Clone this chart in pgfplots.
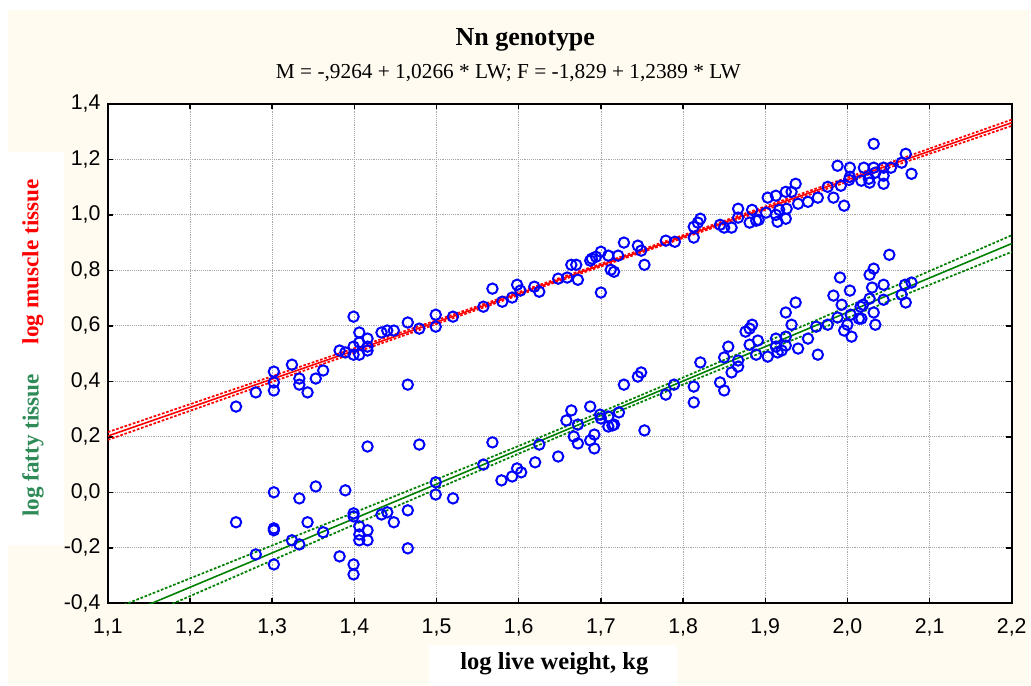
\documentclass[border=0pt]{standalone}
\usepackage{pgfplots}
\pgfplotsset{compat=1.18}
\usepackage{pgfplotstable}
\usepackage{fontspec}
\setmainfont{Liberation Serif}
\newfontfamily\arialfont{Liberation Sans}
\definecolor{cream}{RGB}{255,251,240}
\definecolor{seagreen}{RGB}{46,139,87}
\definecolor{dgreen}{RGB}{0,128,0}

\pgfplotstableread{
x y
1.256 0.309
1.280 0.360
1.302 0.435
1.302 0.396
1.302 0.367
1.324 0.460
1.333 0.410
1.333 0.388
1.343 0.360
1.353 0.410
1.362 0.439
1.382 0.511
1.389 0.504
1.399 0.633
1.399 0.525
1.399 0.496
1.406 0.576
1.406 0.540
1.406 0.496
1.416 0.554
1.416 0.511
1.416 0.525
1.433 0.576
1.440 0.583
1.448 0.583
1.465 0.612
1.465 0.388
1.479 0.590
1.499 0.640
1.499 0.597
1.520 0.633
1.557 0.669
1.568 0.734
1.580 0.687
1.592 0.702
1.598 0.748
1.602 0.727
1.619 0.741
1.625 0.723
1.648 0.770
1.659 0.774
1.664 0.820
1.670 0.820
1.672 0.766
1.687 0.835
1.689 0.842
1.694 0.849
1.700 0.867
1.700 0.720
1.709 0.853
1.712 0.802
1.716 0.795
1.721 0.853
1.728 0.900
1.745 0.889
1.749 0.871
1.753 0.820
1.779 0.907
1.790 0.903
1.813 0.957
1.813 0.918
1.818 0.972
1.821 0.986
1.845 0.964
1.850 0.954
1.859 0.954
1.867 1.022
1.867 0.990
1.881 0.972
1.884 1.018
1.889 0.979
1.892 0.982
1.901 1.008
1.913 1.000
1.915 0.975
1.903 1.062
1.913 1.069
1.917 1.018
1.925 0.986
1.925 1.083
1.926 1.022
1.932 1.083
1.937 1.112
1.940 1.040
1.952 1.047
1.964 1.062
1.976 1.101
1.983 1.062
1.988 1.177
1.992 1.105
1.996 1.033
2.002 1.126
2.003 1.170
2.003 1.137
2.017 1.123
2.020 1.170
2.026 1.130
2.027 1.116
2.032 1.256
2.032 1.170
2.034 1.152
2.044 1.170
2.044 1.141
2.044 1.112
2.053 1.170
2.066 1.188
2.071 1.220
2.078 1.148
}\muscle

\pgfplotstableread{
x y
1.256 -0.108
1.280 -0.224
1.302 0.000
1.302 -0.130
1.302 -0.137
1.302 -0.260
1.324 -0.173
1.333 -0.022
1.333 -0.188
1.343 -0.108
1.353 0.021
1.362 -0.144
1.382 -0.231
1.389 0.007
1.399 -0.076
1.399 -0.087
1.399 -0.260
1.399 -0.296
1.406 -0.123
1.406 -0.152
1.406 -0.173
1.416 0.165
1.416 -0.137
1.416 -0.173
1.433 -0.080
1.440 -0.072
1.448 -0.108
1.465 -0.065
1.465 -0.202
1.479 0.172
1.499 0.036
1.499 -0.008
1.520 -0.022
1.557 0.100
1.568 0.180
1.579 0.043
1.592 0.057
1.598 0.086
1.603 0.072
1.620 0.108
1.625 0.172
1.648 0.129
1.658 0.259
1.664 0.295
1.667 0.201
1.672 0.244
1.672 0.176
1.687 0.309
1.687 0.187
1.692 0.208
1.692 0.158
1.699 0.280
1.700 0.266
1.709 0.273
1.709 0.237
1.714 0.241
1.716 0.244
1.722 0.288
1.728 0.388
1.745 0.417
1.749 0.432
1.753 0.223
1.779 0.352
1.789 0.388
1.813 0.381
1.813 0.324
1.821 0.468
1.845 0.396
1.850 0.367
1.850 0.486
1.855 0.525
1.859 0.432
1.867 0.453
1.867 0.475
1.881 0.532
1.889 0.496
1.876 0.579
1.881 0.590
1.884 0.604
1.891 0.547
1.903 0.489
1.913 0.554
1.913 0.525
1.915 0.504
1.920 0.511
1.925 0.529
1.925 0.561
1.925 0.648
1.932 0.604
1.937 0.684
1.940 0.518
1.952 0.554
1.962 0.597
1.964 0.496
1.976 0.604
1.983 0.709
1.988 0.630
1.991 0.774
1.993 0.676
1.996 0.583
2.000 0.604
2.003 0.727
2.005 0.561
2.004 0.640
2.014 0.626
2.016 0.669
2.017 0.626
2.019 0.676
2.027 0.784
2.027 0.698
2.030 0.738
2.032 0.806
2.032 0.648
2.034 0.604
2.044 0.748
2.044 0.694
2.051 0.856
2.066 0.712
2.070 0.748
2.071 0.684
2.078 0.756
}\fatty

\pgfplotstableread{
x fit up lo
1.1 0.2029 0.2169 0.1889
1.2 0.3056 0.3176 0.2936
1.3 0.4082 0.4183 0.3981
1.4 0.5108 0.5192 0.5024
1.5 0.6135 0.6203 0.6067
1.6 0.7162 0.7218 0.7106
1.7 0.8188 0.8238 0.8138
1.8 0.9215 0.9268 0.9162
1.9 1.0241 1.0304 1.0178
2.0 1.1268 1.1345 1.1191
2.1 1.2295 1.2389 1.2201
2.2 1.3321 1.3434 1.3208
}\mfit

\pgfplotstableread{
x fit up lo
1.1 -0.4662 -0.4289 -0.5035
1.2 -0.3423 -0.3103 -0.3743
1.3 -0.2184 -0.1916 -0.2452
1.4 -0.0945 -0.0727 -0.1163
1.5 0.0294 0.0468 0.0120
1.6 0.1532 0.1670 0.1394
1.7 0.2771 0.2892 0.2650
1.8 0.4010 0.4138 0.3882
1.9 0.5249 0.5407 0.5091
2.0 0.6488 0.6688 0.6288
2.1 0.7727 0.7975 0.7479
2.2 0.8966 0.9265 0.8667
}\ffit

\begin{document}
\begin{tikzpicture}
\begin{scope}[x=0.75pt,y=-0.75pt]
\useasboundingbox (0,0) rectangle (1031,686);
\fill[white] (0,0) rectangle (1031,686);
\fill[cream] (8,10) rectangle (1031,686);
\fill[white] (8,152) rectangle (64,546);
\fill[white] (430,646) rectangle (678,686);
\node[font=\bfseries\fontsize{19.5}{21}\selectfont] at (526,40) {Nn genotype};
\node[font=\fontsize{16}{18}\selectfont] at (509,73) {M = -,9264 + 1,0266 * LW; F = -1,829 + 1,2389 * LW};
\node[rotate=90, text=red, font=\bfseries\fontsize{17.4}{19}\selectfont] at (33,262) {log muscle tissue};
\node[rotate=90, text=seagreen, font=\bfseries\fontsize{17.4}{19}\selectfont] at (33,446) {log fatty tissue};
\node[font=\bfseries\fontsize{18.4}{20}\selectfont] at (555,665) {log live weight, kg};
\end{scope}
\begin{axis}[
  at={(81pt,-453pt)}, anchor=south west,
  scale only axis, width=678.75pt, height=375pt,
  xmin=1.1, xmax=2.2, ymin=-0.4, ymax=1.4,
  xtick={1.1,1.2,1.3,1.4,1.5,1.6,1.7,1.8,1.9,2.0,2.1,2.2},
  ytick={-0.4,-0.2,0,0.2,0.4,0.6,0.8,1.0,1.2,1.4},
  /pgf/number format/.cd, use comma, fixed, fixed zerofill, precision=1, assume math mode=true,
  /pgfplots/.cd,
  tick pos=both, tick align=inside,
  major tick length=4pt,
  major tick style={black, line width=1.1pt},
  axis line style={black, line width=1.8pt},
  grid=major,
  major grid style={densely dotted, black!35, line width=0.6pt},
  axis background/.style={fill=white},
  ticklabel style={font=\arialfont\fontsize{16}{17}\selectfont},
  yticklabel style={xshift=-2pt},
  xticklabel style={yshift=-8pt},
  clip=true,
]
\addplot[red, line width=1.2pt] table[x=x, y=fit] {\mfit};
\addplot[red, dash pattern=on 2pt off 1.3pt, line width=1.3pt] table[x=x, y=up] {\mfit};
\addplot[red, dash pattern=on 2pt off 1.3pt, line width=1.3pt] table[x=x, y=lo] {\mfit};
\addplot[dgreen, line width=1.2pt] table[x=x, y=fit] {\ffit};
\addplot[dgreen, dash pattern=on 2pt off 1.3pt, line width=1.3pt] table[x=x, y=up] {\ffit};
\addplot[dgreen, dash pattern=on 2pt off 1.3pt, line width=1.3pt] table[x=x, y=lo] {\ffit};
\addplot[only marks, mark=o, mark size=3.9pt, blue, mark options={line width=1.5pt}] table[x=x, y=y] {\muscle};
\addplot[only marks, mark=o, mark size=3.9pt, blue, mark options={line width=1.5pt}] table[x=x, y=y] {\fatty};
\end{axis}
\end{tikzpicture}
\end{document}
